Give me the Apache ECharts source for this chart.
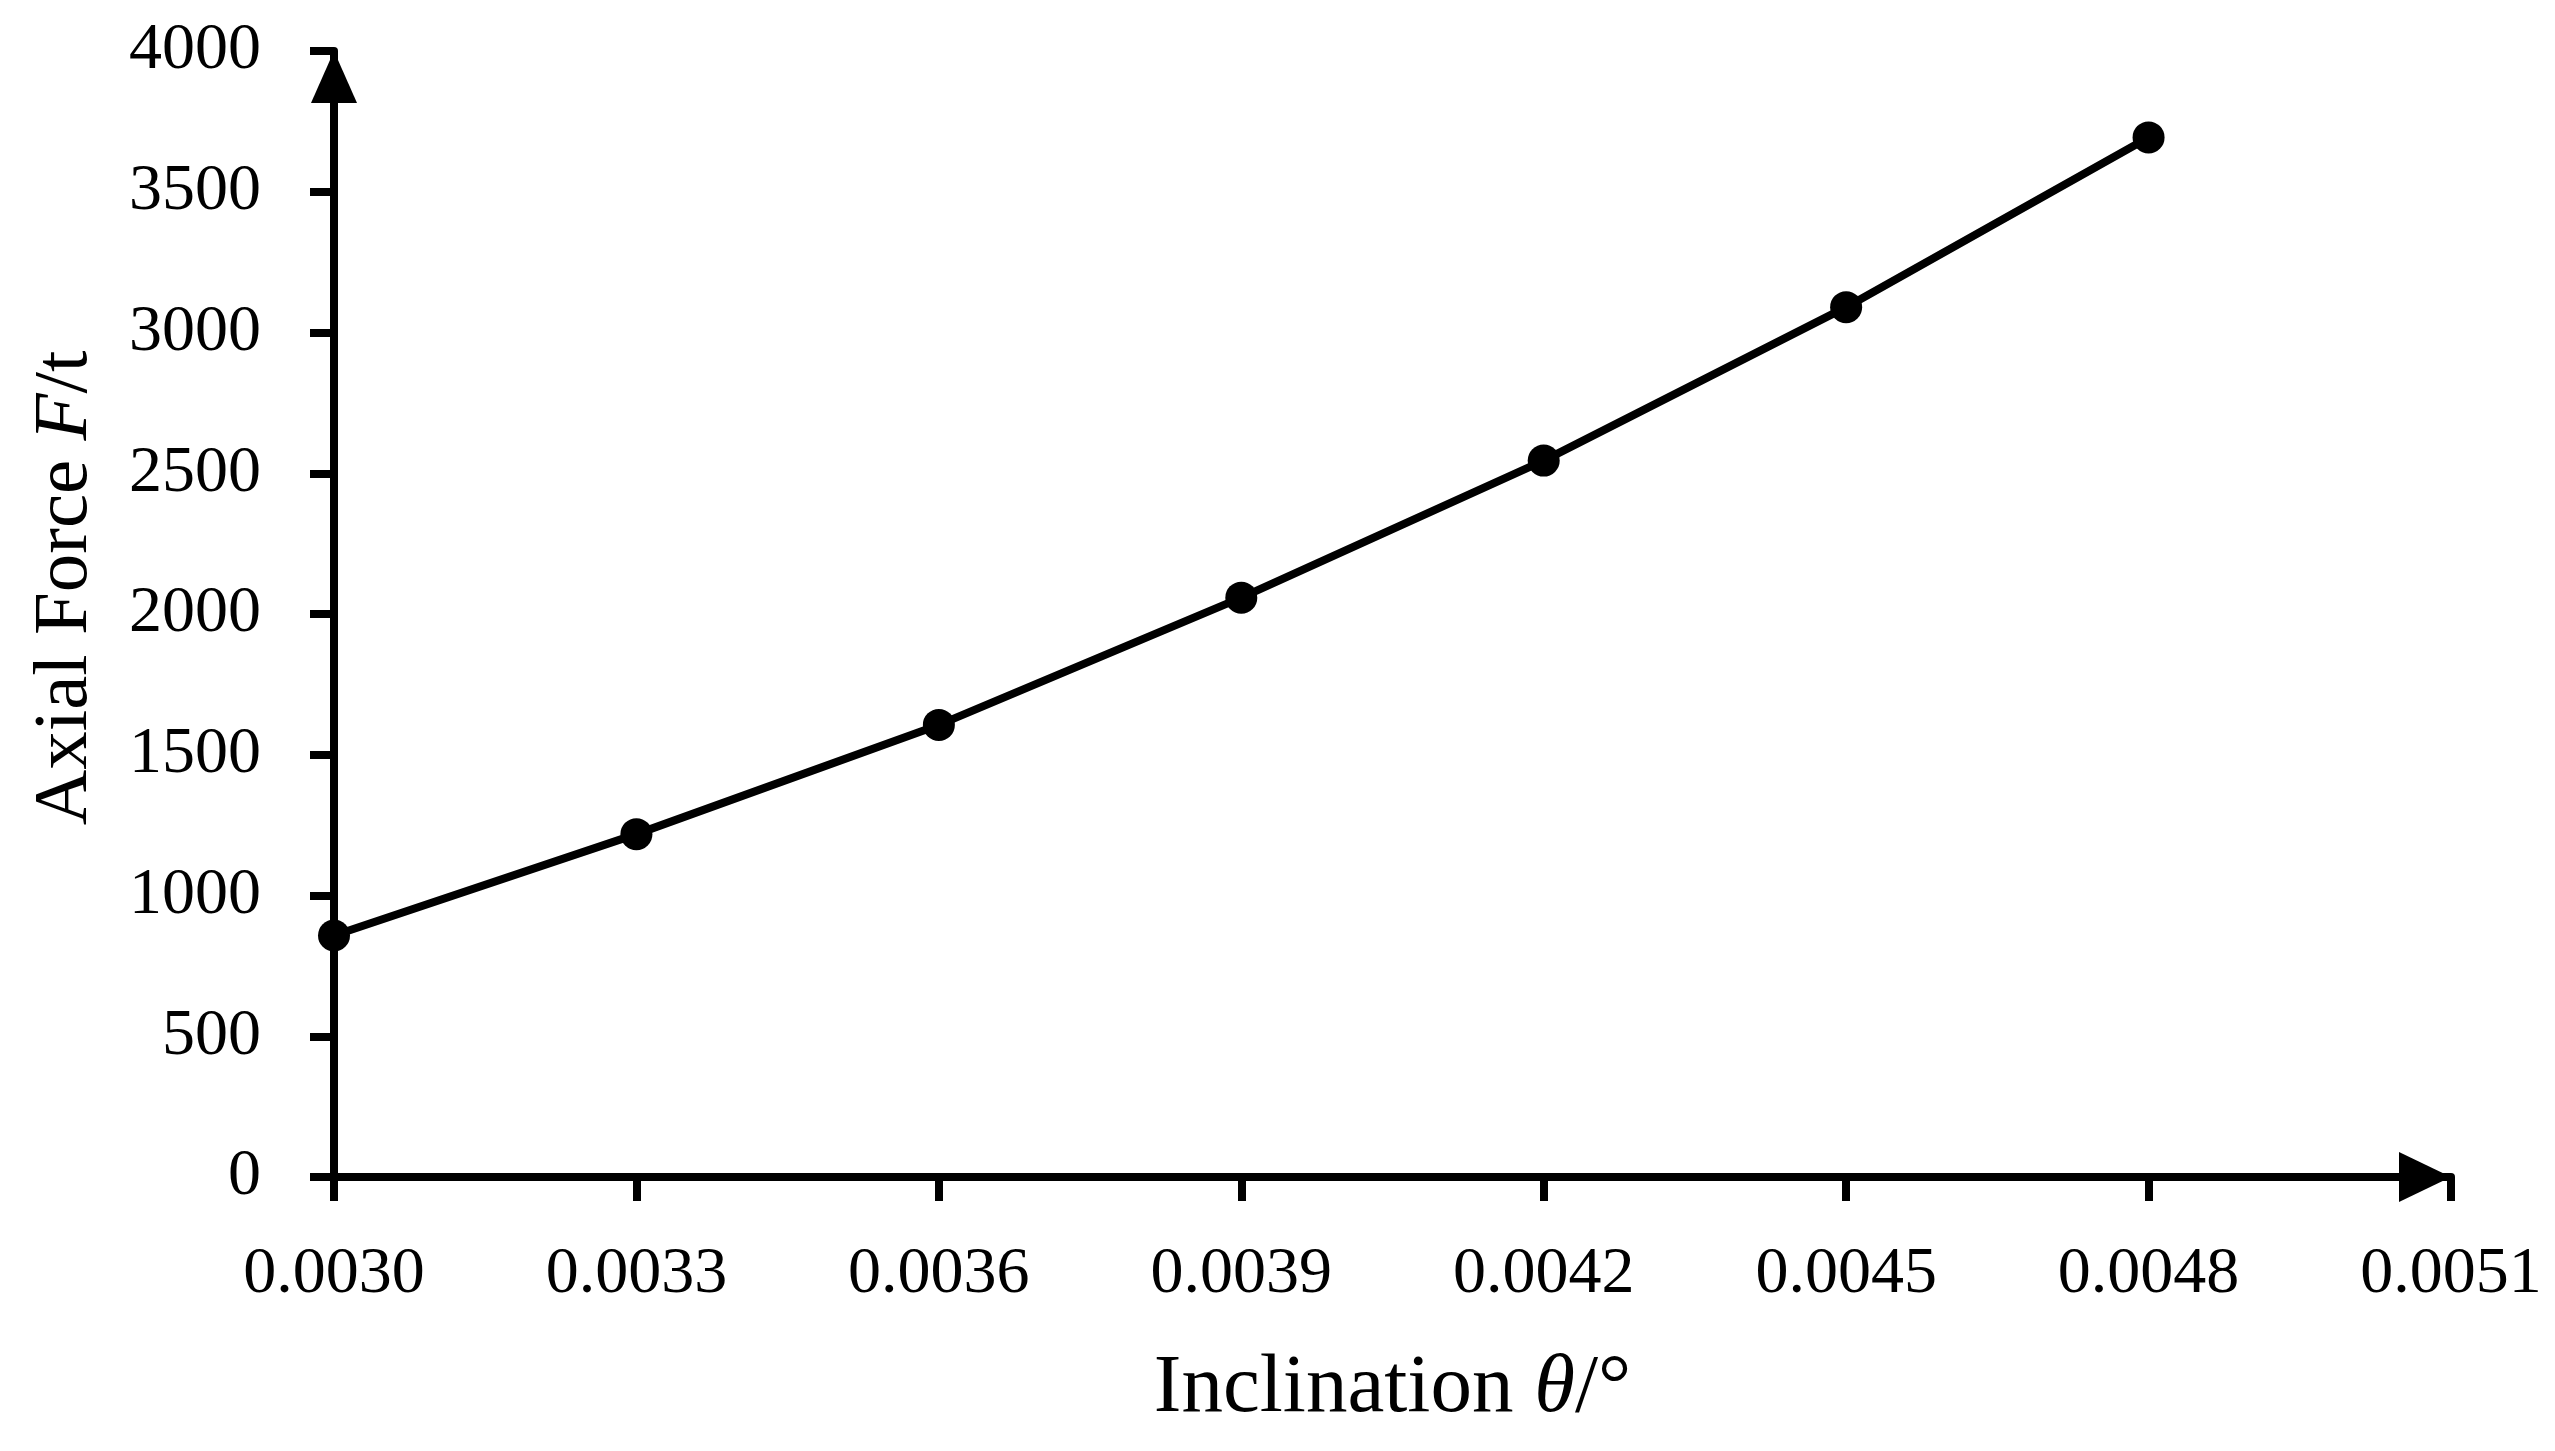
<!DOCTYPE html>
<html>
<head>
<meta charset="utf-8">
<script src="https://cdn.jsdelivr.net/npm/echarts@6/dist/echarts.min.js"></script>
<style>
html,body{margin:0;padding:0;background:#fff;}
#chart{width:2555px;height:1451px;}
</style>
</head>
<body>
<div id="chart"></div>
<script>
const inclination = [0.0030, 0.0033, 0.0036, 0.0039, 0.0042, 0.0045, 0.0048];
const axialForce = [858, 1218, 1606, 2058, 2545, 3090, 3693];
const xTickRange = {min: 0.0030, max: 0.0051, step: 0.0003};
const yTickRange = {min: 0, max: 4000, step: 500};

const FONT = '"Liberation Serif", "DejaVu Serif", serif';
const chart = echarts.init(document.getElementById('chart'), null, {renderer: 'canvas'});
const pts = inclination.map((x, i) => [x, axialForce[i]]);

chart.setOption({
  backgroundColor: '#ffffff',
  animation: false,
  grid: {left: 334, right: 104, top: 51, bottom: 274, containLabel: false},
  xAxis: {
    type: 'value',
    min: xTickRange.min, max: xTickRange.max, interval: xTickRange.step,
    name: '{a|Inclination }{b|θ}{a|/°}',
    nameLocation: 'middle',
    nameGap: 171,
    nameTextStyle: {
      rich: {
        a: {fontFamily: FONT, fontSize: 83, color: '#000'},
        b: {fontFamily: FONT, fontSize: 83, color: '#000', fontStyle: 'italic'}
      }
    },
    axisLine: {show: true, onZero: false, lineStyle: {color: '#000', width: 8},
      symbol: ['none', 'triangle'], symbolSize: [50, 52], symbolOffset: [0, -26]},
    axisTick: {show: true, inside: false, length: 24, lineStyle: {color: '#000', width: 8}},
    axisLabel: {show: true, margin: 65, fontFamily: FONT, fontSize: 66, color: '#000',
      formatter: v => v.toFixed(4)},
    splitLine: {show: false}
  },
  yAxis: {
    type: 'value',
    min: yTickRange.min, max: yTickRange.max, interval: yTickRange.step,
    name: '{a|Axial Force }{b|F}{a|/t}',
    nameLocation: 'middle',
    nameGap: 230,
    nameRotate: 90,
    nameTextStyle: {
      padding: [0, 0, 0, 52],
      rich: {
        a: {fontFamily: FONT, fontSize: 77, color: '#000'},
        b: {fontFamily: FONT, fontSize: 77, color: '#000', fontStyle: 'italic'}
      }
    },
    axisLine: {show: true, onZero: false, lineStyle: {color: '#000', width: 8},
      symbol: ['none', 'triangle'], symbolSize: [46, 52], symbolOffset: [0, -26]},
    axisTick: {show: true, inside: false, length: 24, lineStyle: {color: '#000', width: 8}},
    axisLabel: {show: true, margin: 73, fontFamily: FONT, fontSize: 66, color: '#000',
      formatter: v => String(v)},
    splitLine: {show: false}
  },
  series: [{
    type: 'line',
    data: pts,
    symbol: 'circle',
    symbolSize: 32,
    itemStyle: {color: '#000'},
    lineStyle: {color: '#000', width: 8},
    z: 5
  }]
});
</script>
</body>
</html>
